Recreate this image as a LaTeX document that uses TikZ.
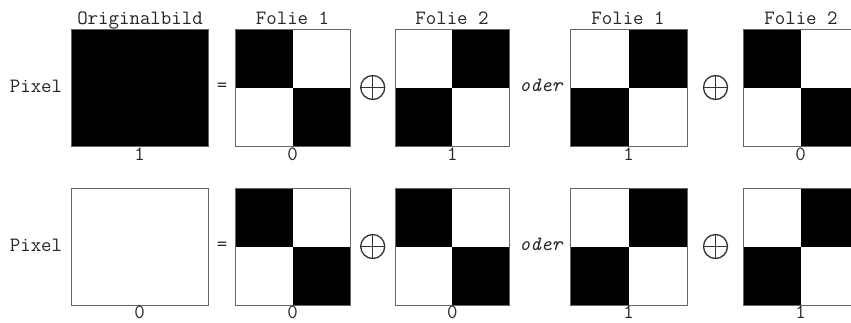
\documentclass[tikz,border=0pt]{standalone}
\usepackage{fontspec}
\tikzset{
  panel/.style={rectangle, minimum height=117pt, inner sep=0pt, outer sep=0pt},
  frame/.style={draw=black!60, line width=0.9pt},
  txt/.style={font=\ttfamily\fontsize{20.3}{24}\selectfont, inner sep=0pt, text=black!85},
  lbl/.style={txt, anchor=base},
  xorsym/.style={circle, draw=black!80, line width=1.3pt, minimum size=24pt, inner sep=0pt,
    path picture={\draw[black!80, line width=1.3pt]
      (path picture bounding box.north) -- (path picture bounding box.south)
      (path picture bounding box.west) -- (path picture bounding box.east);}},
}
% pattern A: top-left and bottom-right black
\newcommand\patA[1]{%
  \fill (#1.north west) rectangle (#1.center);
  \fill (#1.center) rectangle (#1.south east);
  \draw[frame] (#1.north west) rectangle (#1.south east);}
% pattern B: top-right and bottom-left black
\newcommand\patB[1]{%
  \fill (#1.north) rectangle (#1.east);
  \fill (#1.west) rectangle (#1.south);
  \draw[frame] (#1.north west) rectangle (#1.south east);}
\begin{document}
\begin{tikzpicture}[x=1pt, y=-1pt]
\path[use as bounding box, clip] (0,0) rectangle (851,322);
\fill[white] (0,0) rectangle (851,322);

% titles
\node[lbl] (t0) at (140,24) {Originalbild};
\node[lbl] (t1) at (292.5,24) {Folie 1};
\node[lbl] (t2) at (452,24) {Folie 2};
\node[lbl] (t3) at (628,24) {Folie 1};
\node[lbl] (t4) at (801,24) {Folie 2};

% ---- row 1 ----
\node[panel, minimum width=137pt] (o1) at (139.5,87.5) {};
\fill (o1.north west) rectangle (o1.south east);
\draw[frame] (o1.north west) rectangle (o1.south east);
\node[panel, minimum width=115pt] (a1) at (292.5,87.5) {}; \patA{a1}
\node[panel, minimum width=114pt] (b1) at (452.3,87.5) {}; \patB{b1}
\node[panel, minimum width=117pt] (c1) at (628.5,87.5) {}; \patB{c1}
\node[panel, minimum width=115pt] (d1) at (800.7,87.5) {}; \patA{d1}

\node[lbl] (p1) at (36,92.7) {Pixel};
\node[txt] (e1) at (222,87) {=};
\node[xorsym] (x1) at (372.7,87.5) {};
\node[lbl, font=\ttfamily\fontsize{20.3}{24}\selectfont\itshape] (r1) at (541,91.7) {oder};
\node[xorsym] (y1) at (715.5,87.5) {};

\node[lbl] (n01) at (139.5,160.5) {1};
\node[lbl] (n11) at (292.5,160.5) {0};
\node[lbl] (n21) at (452.3,160.5) {1};
\node[lbl] (n31) at (628.5,160.5) {1};
\node[lbl] (n41) at (800.7,160.5) {0};

% ---- row 2 ----
\node[panel, minimum width=137pt] (o2) at (139.5,246.5) {};
\draw[frame] (o2.north west) rectangle (o2.south east);
\node[panel, minimum width=115pt] (a2) at (292.5,246.5) {}; \patA{a2}
\node[panel, minimum width=114pt] (b2) at (452.3,246.5) {}; \patA{b2}
\node[panel, minimum width=117pt] (c2) at (628.5,246.5) {}; \patB{c2}
\node[panel, minimum width=115pt] (d2) at (800.7,246.5) {}; \patB{d2}

\node[lbl] (p2) at (36,251.7) {Pixel};
\node[txt] (e2) at (222,246) {=};
\node[xorsym] (x2) at (372.7,246.5) {};
\node[lbl, font=\ttfamily\fontsize{20.3}{24}\selectfont\itshape] (r2) at (541,250.7) {oder};
\node[xorsym] (y2) at (715.5,246.5) {};

\node[lbl] (n02) at (139.5,318.3) {0};
\node[lbl] (n12) at (292.5,318.3) {0};
\node[lbl] (n22) at (452.3,318.3) {0};
\node[lbl] (n32) at (628.5,318.3) {1};
\node[lbl] (n42) at (800.7,318.3) {1};
\end{tikzpicture}
\end{document}
